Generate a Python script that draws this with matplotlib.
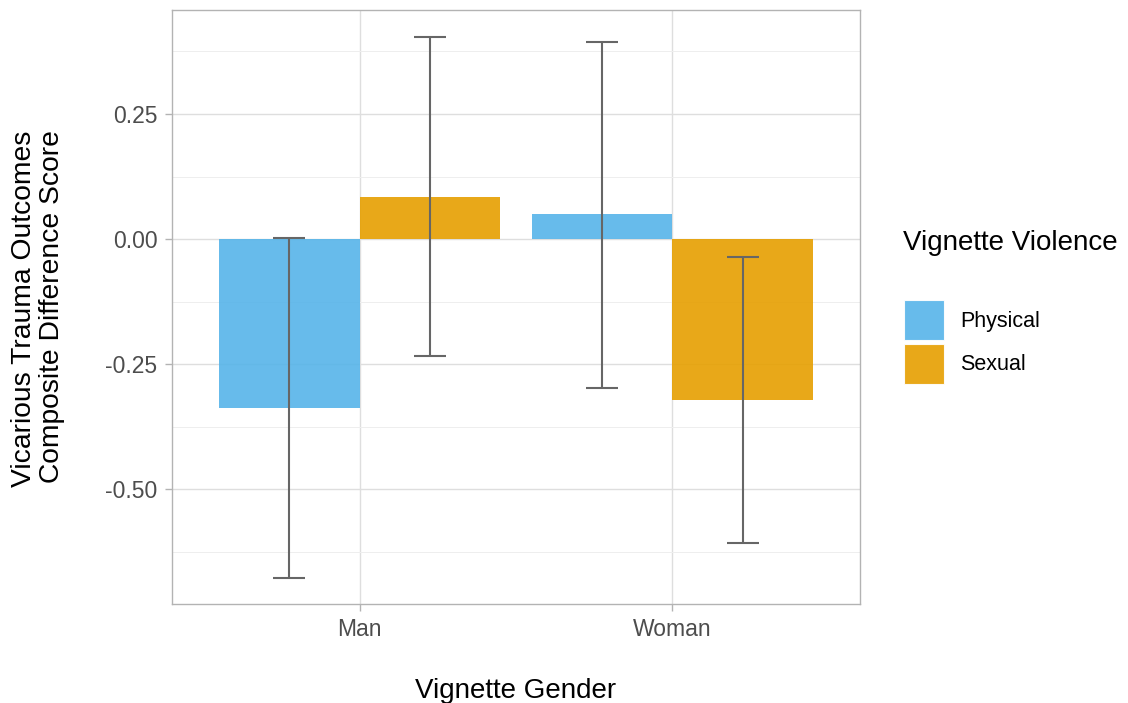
import matplotlib.pyplot as plt
import numpy as np

plt.rcParams["font.family"] = ["Liberation Sans", "DejaVu Sans"]

# group means and confidence limits
genders = ["Man", "Woman"]
violence = ["Physical", "Sexual"]
means = {
    "Physical": [-0.338, 0.050],
    "Sexual": [0.084, -0.322],
}
lower = {
    "Physical": [-0.678, -0.297],
    "Sexual": [-0.234, -0.608],
}
upper = {
    "Physical": [0.002, 0.394],
    "Sexual": [0.404, -0.035],
}
colors = {"Physical": "#56B4E9", "Sexual": "#E69F00"}

W, H = 1128, 703
fig = plt.figure(figsize=(W / 100, H / 100), dpi=100)
ax = fig.add_axes([172 / W, 1 - 604 / H, 688 / W, 594 / H])

x = np.arange(1, len(genders) + 1)
width = 0.45
for i, v in enumerate(violence):
    xpos = x + (i - 0.5) * width
    ax.bar(xpos, means[v], width=width, color=colors[v], alpha=0.9,
           label=v, zorder=2)
    lo = np.array(lower[v])
    hi = np.array(upper[v])
    m = np.array(means[v])
    ax.errorbar(xpos, m, yerr=[m - lo, hi - m], fmt="none", ecolor="#666666",
                elinewidth=1.5, capsize=11.5, capthick=1.5, zorder=3)

ax.set_xlim(0.4, 2.6)
ax.set_ylim(-0.73, 0.458)
ax.set_xticks(x)
ax.set_xticklabels(genders)
ax.set_yticks([-0.5, -0.25, 0, 0.25])
ax.set_yticklabels(["-0.50", "-0.25", "0.00", "0.25"])
ax.set_yticks([-0.625, -0.375, -0.125, 0.125, 0.375], minor=True)

ax.grid(which="major", color="#DEDEDE", linewidth=1.0, zorder=0)
ax.grid(which="minor", axis="y", color="#EEEEEE", linewidth=0.7, zorder=0)
ax.set_axisbelow(True)
for s in ax.spines.values():
    s.set_color("#B3B3B3")
    s.set_linewidth(1.0)
ax.tick_params(which="major", colors="#B3B3B3", labelcolor="#4D4D4D",
               labelsize=16.5, length=5, width=1.0)
ax.tick_params(axis="y", pad=5.5)
ax.tick_params(axis="x", pad=5)
ax.tick_params(which="minor", length=0)

ax.set_xlabel("Vignette Gender", fontsize=20, labelpad=26.5)
ax.set_ylabel("Vicarious Trauma Outcomes\nComposite Difference Score",
              fontsize=20.3, linespacing=1.1, multialignment="right")
ax.yaxis.set_label_coords((65 - 172) / 688, 0.497)

# legend: title as separate text so its gap to the keys can be set
fig.text(903 / W, 1 - 243 / H, "Vignette Violence", fontsize=20,
         ha="left", va="center")
leg = fig.legend(loc="upper left", bbox_to_anchor=(904 / W, 1 - 300 / H),
                 bbox_transform=fig.transFigure, frameon=False,
                 fontsize=15.5, handlelength=1.86, handleheight=2.48,
                 labelspacing=0.17, handletextpad=0.75, borderpad=0,
                 borderaxespad=0)
for h in leg.legend_handles:
    h.set_edgecolor("white")
    h.set_linewidth(0.8)

fig.savefig("out.png", dpi=100)
